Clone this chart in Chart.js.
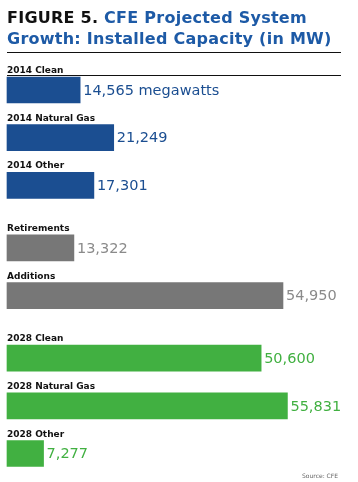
<!DOCTYPE html>
<html>
<head>
<meta charset="utf-8">
<script src="https://cdn.jsdelivr.net/npm/chart.js@4/dist/chart.umd.min.js"></script>
<style>
  html, body { margin: 0; padding: 0; background: #fff; }
  #wrap { position: relative; width: 358px; height: 482px; overflow: hidden; }
  #title { position: absolute; left: 7px; top: 7px; white-space: nowrap; letter-spacing: 0.25px;
           font: bold 16px "DejaVu Sans", sans-serif; line-height: 21px; color: #1d5aa6; }
  #title .fig { color: #111; }
  canvas { position: absolute; left: 0; top: 0; }
</style>
</head>
<body>
<div id="wrap">
  <canvas id="c" width="358" height="482"></canvas>
  <div id="title"><span class="fig">FIGURE 5.</span> CFE Projected System<br>Growth: Installed Capacity (in MW)</div>
</div>
<script>
// ---- Data ----
const group2014 = ["2014 Clean", "2014 Natural Gas", "2014 Other"];
const values2014 = [14565, 21249, 17301];
const groupChange = ["Retirements", "Additions"];
const valuesChange = [13322, 54950];
const group2028 = ["2028 Clean", "2028 Natural Gas", "2028 Other"];
const values2028 = [50600, 55831, 7277];
const firstValueUnit = "megawatts";
const sourceText = "Source: CFE";

// ---- Styles ----
const groupColors = ["#1b4e91", "#777777", "#41b041"];
const groupTextColors = ["#1b4e91", "#8a8a8a", "#41b041"];
const itemStep = 16;   // spacer slots between rows within a group
const groupStep = 21;  // spacer slots between groups

const groups = [
  { labels: group2014, values: values2014 },
  { labels: groupChange, values: valuesChange },
  { labels: group2028, values: values2028 }
];

const cats = [], data = [], colors = [], textColors = [], names = [];
function spacer(n) {
  for (let k = 0; k < n; k++) { cats.push(""); data.push(null); colors.push("transparent"); textColors.push(null); names.push(null); }
}
groups.forEach((g, gi) => {
  g.labels.forEach((lab, i) => {
    if (gi > 0 && i === 0) spacer(groupStep - 1);
    else if (i > 0) spacer(itemStep - 1);
    cats.push(lab); data.push(g.values[i]); colors.push(groupColors[gi]); textColors.push(groupTextColors[gi]); names.push(lab);
  });
});

const labelPlugin = {
  id: "labels",
  beforeDraw(chart) {
    const ctx = chart.ctx;
    ctx.save();
    ctx.strokeStyle = "#111";
    ctx.lineWidth = 1;
    ctx.beginPath();
    ctx.moveTo(7, 52.5); ctx.lineTo(341, 52.5);
    ctx.moveTo(7, 75.5); ctx.lineTo(341, 75.5);
    ctx.stroke();
    ctx.restore();
  },
  afterDatasetsDraw(chart) {
    const ctx = chart.ctx;
    const meta = chart.getDatasetMeta(0);
    let first = true;
    ctx.save();
    meta.data.forEach((bar, i) => {
      const v = data[i];
      if (v === null) return;
      const top = bar.y - bar.height / 2;
      ctx.font = "bold 9px 'DejaVu Sans', sans-serif";
      ctx.fillStyle = "#111";
      ctx.textAlign = "left";
      ctx.textBaseline = "alphabetic";
      ctx.fillText(names[i], chart.chartArea.left, top - 4);
      ctx.font = "14.5px 'DejaVu Sans', sans-serif";
      ctx.fillStyle = textColors[i];
      ctx.textBaseline = "middle";
      let txt = v.toLocaleString("en-US");
      if (first) { txt += " " + firstValueUnit; first = false; }
      ctx.fillText(txt, bar.x + 3, bar.y + 1);
    });
    ctx.font = "6px 'DejaVu Sans', sans-serif";
    ctx.fillStyle = "#666";
    ctx.textAlign = "right";
    ctx.textBaseline = "alphabetic";
    ctx.fillText(sourceText, 338, 478);
    ctx.restore();
  }
};

new Chart(document.getElementById("c"), {
  type: "bar",
  data: {
    labels: cats,
    datasets: [{
      data: data,
      backgroundColor: colors,
      barThickness: 26,
      borderWidth: 0,
      clip: false
    }]
  },
  options: {
    indexAxis: "y",
    responsive: false,
    animation: false,
    layout: { padding: { left: 7, right: 17, top: 90, bottom: 28.5 } },
    plugins: { legend: { display: false }, tooltip: { enabled: false }, title: { display: false } },
    scales: {
      x: { display: false, min: 0, max: 66500 },
      y: { display: false, offset: false }
    }
  },
  plugins: [labelPlugin]
});
</script>
</body>
</html>
